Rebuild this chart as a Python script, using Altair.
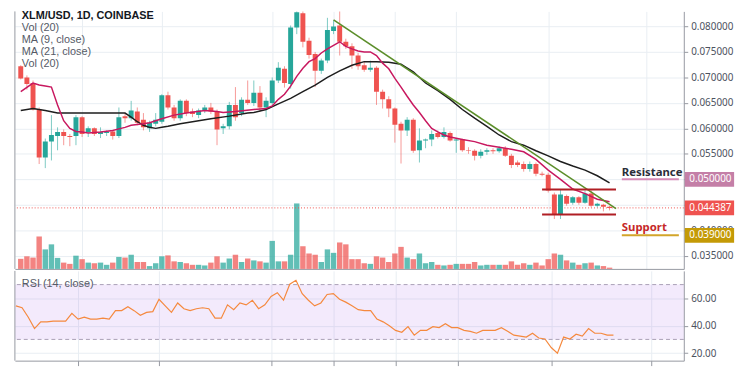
import altair as alt
import pandas as pd

# ---------------- data ----------------
opens = [0.0722, 0.0700, 0.0689, 0.0637, 0.0543, 0.0574, 0.0585, 0.0593, 0.0585, 0.0585,
         0.0622, 0.0593, 0.0600, 0.0589, 0.0591, 0.0594, 0.0585, 0.0624, 0.0620, 0.0633,
         0.0617, 0.0600, 0.0609, 0.0613, 0.0665, 0.0641, 0.0620, 0.0654, 0.0633, 0.0626,
         0.0635, 0.0641, 0.0633, 0.0600, 0.0604, 0.0646, 0.0630, 0.0656, 0.0650, 0.0670,
         0.0641, 0.0650, 0.0694, 0.0717, 0.0687, 0.0798, 0.0826, 0.0772, 0.0746, 0.0713,
         0.0733, 0.0791, 0.0802, 0.0770, 0.0761, 0.0743, 0.0724, 0.0715, 0.0719, 0.0672,
         0.0657, 0.0639, 0.0609, 0.0596, 0.0617, 0.0557, 0.0576, 0.0578, 0.0591, 0.0583,
         0.0591, 0.0576, 0.0578, 0.0557, 0.0556, 0.0546, 0.0554, 0.0557, 0.0555, 0.0561,
         0.0546, 0.0533, 0.0530, 0.0520, 0.0530, 0.0511, 0.0509, 0.0470, 0.0430, 0.0467,
         0.0454, 0.0465, 0.0454, 0.0472, 0.0448, 0.0450, 0.0446]
highs = [0.0724, 0.0704, 0.0694, 0.0641, 0.0580, 0.0626, 0.0602, 0.0598, 0.0589, 0.0626,
         0.0624, 0.0604, 0.0602, 0.0602, 0.0596, 0.0597, 0.0641, 0.0630, 0.0654, 0.0641,
         0.0630, 0.0615, 0.0630, 0.0667, 0.0672, 0.0646, 0.0657, 0.0657, 0.0639, 0.0639,
         0.0646, 0.0650, 0.0637, 0.0609, 0.0652, 0.0681, 0.0661, 0.0694, 0.0694, 0.0683,
         0.0661, 0.0700, 0.0730, 0.0722, 0.0802, 0.0840, 0.0845, 0.0778, 0.0750, 0.0737,
         0.0817, 0.0812, 0.0835, 0.0776, 0.0767, 0.0748, 0.0730, 0.0733, 0.0722, 0.0676,
         0.0663, 0.0641, 0.0613, 0.0622, 0.0620, 0.0600, 0.0580, 0.0596, 0.0596, 0.0602,
         0.0594, 0.0580, 0.0580, 0.0563, 0.0559, 0.0559, 0.0561, 0.0561, 0.0565, 0.0565,
         0.0550, 0.0537, 0.0535, 0.0535, 0.0533, 0.0515, 0.0513, 0.0474, 0.0481, 0.0470,
         0.0467, 0.0467, 0.0478, 0.0478, 0.0454, 0.0452, 0.0448]
lows = [0.0696, 0.0676, 0.0635, 0.0530, 0.0522, 0.0537, 0.0557, 0.0567, 0.0565, 0.0567,
        0.0583, 0.0583, 0.0585, 0.0581, 0.0585, 0.0578, 0.0581, 0.0611, 0.0615, 0.0606,
        0.0596, 0.0593, 0.0604, 0.0609, 0.0637, 0.0615, 0.0615, 0.0624, 0.0622, 0.0620,
        0.0630, 0.0628, 0.0567, 0.0589, 0.0598, 0.0615, 0.0624, 0.0646, 0.0644, 0.0633,
        0.0622, 0.0646, 0.0689, 0.0680, 0.0678, 0.0785, 0.0759, 0.0737, 0.0681, 0.0707,
        0.0728, 0.0785, 0.0743, 0.0756, 0.0717, 0.0715, 0.0711, 0.0711, 0.0646, 0.0639,
        0.0622, 0.0572, 0.0531, 0.0585, 0.0552, 0.0533, 0.0561, 0.0565, 0.0580, 0.0580,
        0.0574, 0.0552, 0.0554, 0.0550, 0.0537, 0.0541, 0.0548, 0.0550, 0.0552, 0.0544,
        0.0522, 0.0524, 0.0515, 0.0515, 0.0506, 0.0506, 0.0474, 0.0422, 0.0422, 0.0448,
        0.0450, 0.0450, 0.0452, 0.0445, 0.0445, 0.0437, 0.0439]
closes = [0.0698, 0.0687, 0.0637, 0.0543, 0.0574, 0.0587, 0.0593, 0.0585, 0.0583, 0.0622,
          0.0589, 0.0600, 0.0589, 0.0593, 0.0594, 0.0585, 0.0622, 0.0620, 0.0635, 0.0611,
          0.0602, 0.0611, 0.0617, 0.0665, 0.0641, 0.0620, 0.0654, 0.0630, 0.0628, 0.0635,
          0.0641, 0.0633, 0.0598, 0.0604, 0.0646, 0.0622, 0.0656, 0.0650, 0.0670, 0.0641,
          0.0654, 0.0694, 0.0719, 0.0689, 0.0798, 0.0828, 0.0770, 0.0744, 0.0713, 0.0733,
          0.0793, 0.0800, 0.0770, 0.0761, 0.0743, 0.0722, 0.0715, 0.0719, 0.0672, 0.0657,
          0.0639, 0.0607, 0.0596, 0.0617, 0.0556, 0.0576, 0.0578, 0.0589, 0.0583, 0.0593,
          0.0576, 0.0578, 0.0557, 0.0556, 0.0546, 0.0554, 0.0557, 0.0555, 0.0561, 0.0546,
          0.0528, 0.0528, 0.0520, 0.0530, 0.0511, 0.0509, 0.0478, 0.0430, 0.0470, 0.0452,
          0.0465, 0.0454, 0.0472, 0.0448, 0.0452, 0.0446, 0.044387]
volumes = [32, 40, 36, 103, 62, 78, 35, 20, 16, 42,
           31, 20, 18, 20, 13, 20, 38, 36, 45, 22,
           22, 9, 18, 40, 43, 24, 22, 18, 13, 13,
           11, 20, 40, 20, 33, 45, 22, 33, 27, 24,
           20, 89, 24, 24, 45, 208, 72, 49, 45, 22,
           62, 51, 84, 78, 31, 31, 18, 16, 40, 36,
           22, 49, 70, 36, 31, 49, 18, 22, 13, 11,
           13, 16, 16, 16, 22, 11, 13, 13, 13, 13,
           24, 13, 18, 13, 20, 11, 31, 49, 45, 27,
           20, 13, 18, 20, 11, 9, 4]
rsi_values = [54.5, 53.1, 46.2, 37.9, 42.8, 42.8, 43.4, 43.4, 43.4, 49.0,
              44.8, 46.2, 44.8, 44.8, 45.5, 44.8, 51.0, 51.0, 53.8, 51.0,
              47.6, 49.7, 50.3, 59.3, 54.5, 49.7, 56.6, 52.4, 51.0, 52.4,
              53.1, 52.4, 45.5, 45.5, 55.2, 51.7, 56.6, 55.2, 58.6, 52.4,
              55.2, 61.4, 64.1, 58.6, 70.3, 73.1, 63.4, 58.6, 54.5, 56.6,
              62.8, 63.4, 59.3, 57.2, 54.5, 51.7, 51.0, 51.0, 44.8, 42.8,
              40.0, 36.6, 35.2, 39.3, 33.1, 36.6, 36.6, 39.3, 38.6, 41.4,
              38.6, 38.6, 36.6, 35.9, 34.5, 36.6, 36.6, 36.6, 38.6, 35.9,
              33.1, 32.4, 31.7, 34.5, 31.0, 30.3, 24.1, 20.0, 31.7, 30.3,
              33.8, 32.4, 37.9, 34.5, 34.5, 33.1, 33.1]

ma9_idx = [0, 2, 3, 4, 5, 6, 7, 8, 9, 10, 11, 13, 15, 16, 17, 18, 20, 21, 23, 25,
           27, 30, 32, 33, 35, 38, 40, 41, 42, 43, 44, 45, 46, 47, 48, 49, 50, 51, 52, 53,
           54, 55, 56, 57, 58, 59, 60, 61, 62, 63, 64, 65, 66, 67, 68, 69, 70, 72, 74, 76,
           78, 80, 82, 84, 86, 88, 90, 92, 94, 96]
ma9_val = [0.0672, 0.0689, 0.0685, 0.0683, 0.0681, 0.0646, 0.0615, 0.0600, 0.0594, 0.0593,
           0.0591, 0.0593, 0.0596, 0.0599, 0.0602, 0.0606, 0.0609, 0.0611, 0.0619, 0.0626,
           0.0630, 0.0635, 0.0633, 0.0631, 0.0633, 0.0637, 0.0639, 0.0644, 0.0657, 0.0667,
           0.0683, 0.0702, 0.0718, 0.0731, 0.0737, 0.0748, 0.0756, 0.0763, 0.0770, 0.0761,
           0.0756, 0.0752, 0.0750, 0.0750, 0.0743, 0.0728, 0.0717, 0.0698, 0.0681, 0.0663,
           0.0646, 0.0631, 0.0615, 0.0600, 0.0593, 0.0587, 0.0583, 0.0578, 0.0574, 0.0567,
           0.0563, 0.0559, 0.0554, 0.0539, 0.0518, 0.0500, 0.0481, 0.0472, 0.0461, 0.0456]
ma21_idx = [0, 2, 4, 6, 8, 12, 16, 17, 18, 19, 20, 21, 22, 23, 24, 26, 29, 31, 34, 37,
            38, 40, 42, 44, 46, 48, 50, 52, 54, 56, 58, 60, 62, 64, 66, 68, 70, 72, 74, 76,
            78, 80, 82, 84, 86, 88, 90, 92, 94, 96]
ma21_val = [0.0635, 0.0639, 0.0635, 0.0630, 0.0630, 0.0630, 0.0630, 0.0630, 0.0622, 0.0613,
            0.0606, 0.0602, 0.0600, 0.0602, 0.0604, 0.0609, 0.0615, 0.0619, 0.0624, 0.0630,
            0.0631, 0.0637, 0.0648, 0.0659, 0.0672, 0.0685, 0.0700, 0.0713, 0.0724, 0.0731,
            0.0731, 0.0730, 0.0726, 0.0711, 0.0689, 0.0674, 0.0657, 0.0637, 0.0620, 0.0604,
            0.0587, 0.0574, 0.0567, 0.0556, 0.0546, 0.0535, 0.0526, 0.0518, 0.0507, 0.0493]

trend_idx = [51.0, 97.05]
trend_price = [0.0813, 0.04426]
channel_start = [85.0, 85.0]
channel_end = [97.05, 97.05]
channel_price = [0.0480, 0.0431]
level_names = ["Resistance", "Support"]
level_price = [0.050, 0.039]
level_text_price = [0.0513, 0.0404]
level_start = [98.0, 98.0]
level_end = [107.3, 107.3]
current_price = [0.044387]
badge_price = [0.050, 0.044387, 0.039]

time_ticks = [10, 23, 41, 51, 61, 71, 86, 102]
price_ticks = [0.035, 0.040, 0.045, 0.050, 0.055, 0.060, 0.065, 0.070, 0.075, 0.080]
hidden_price_labels = [0.045, 0.050]   # covered by the price badges in the reference
rsi_ticks = [20, 40, 60]
rsi_band = [30, 70]
legend_lines = ["XLM/USD, 1D, COINBASE", "Vol (20)", "MA (9, close)", "MA (21, close)", "Vol (20)"]

# ---------------- styling / layout ----------------
FONT = "Noto Sans"
LFONT = "Liberation Sans"
GREEN = "#26a69a"
RED = "#ef5350"
GRID = "#e9eef3"
BORDER = "#9598a1"
W, HM, HR = 678, 261, 91
X_DOM = [-0.15, 107.3]
P_DOM = [0.03241, 0.08296]
R_DOM = [14.5, 80.0]
VOL_DOM = [0, 818]

candles = pd.DataFrame({"i": list(range(len(closes))), "open": opens, "high": highs,
                        "low": lows, "close": closes, "volume": volumes, "rsi": rsi_values})
ma9 = pd.DataFrame({"i": ma9_idx, "p": ma9_val})
ma21 = pd.DataFrame({"i": ma21_idx, "p": ma21_val})
trend = pd.DataFrame({"i": trend_idx, "p": trend_price})
channel = pd.DataFrame({"i": channel_start, "i2": channel_end, "p": channel_price})
levels = pd.DataFrame({"name": level_names, "p": level_price, "tp": level_text_price,
                       "i": level_start, "i2": level_end,
                       "line": ["#d68bb6", "#d2a52a"], "tc": ["#2a2e39", "#c62828"]})
cur = pd.DataFrame({"p": current_price})
badges = pd.DataFrame({"p": badge_price, "c": ["#c47fa7", RED, "#c49a06"]})
one = pd.DataFrame({"a": [0]})

xs = alt.Scale(domain=X_DOM, nice=False, zero=False)
ps = alt.Scale(domain=P_DOM, nice=False, zero=False)
rs = alt.Scale(domain=R_DOM, nice=False, zero=False)

hide_expr = " || ".join(f"abs(datum.value - {v}) < 1e-9" for v in hidden_price_labels)
price_label_expr = f"({hide_expr}) ? '' : format(datum.value, '.6f')"

x_axis_main = alt.Axis(values=time_ticks, labels=False, ticks=False, grid=True, gridColor=GRID,
                       domainColor=BORDER, title=None)
x_axis_rsi = alt.Axis(values=time_ticks, labels=False, ticks=True, tickSize=5, tickColor=BORDER,
                      grid=True, gridColor=GRID, domainColor=BORDER, title=None)
p_axis = alt.Axis(orient="right", values=price_ticks, labelExpr=price_label_expr, grid=True,
                  gridColor=GRID, domainColor=BORDER, tickColor=BORDER, tickSize=4,
                  labelFontSize=10, labelColor="#4c525e", labelPadding=3, labelFont=FONT,
                  title=None)
r_axis = alt.Axis(orient="right", values=rsi_ticks, format=".2f", grid=True, gridColor=GRID,
                  domainColor=BORDER, tickColor=BORDER, tickSize=4, labelFontSize=10,
                  labelColor="#4c525e", labelPadding=3, labelFont=FONT, title=None)


def XM(field="i"):
    return alt.X(f"{field}:Q", scale=xs, axis=x_axis_main, title=None)


def XR(field="i"):
    return alt.X(f"{field}:Q", scale=xs, axis=x_axis_rsi, title=None)


def YP(field):
    return alt.Y(f"{field}:Q", scale=ps, axis=p_axis, title=None)


def YR(field):
    return alt.Y(f"{field}:Q", scale=rs, axis=r_axis, title=None)


up = alt.datum.close >= alt.datum.open
dir_color = alt.condition(up, alt.value(GREEN), alt.value(RED))

# ---- volume (own scale) ----
vol = alt.Chart(candles).mark_bar(size=5.5, opacity=0.72).encode(
    x=XM(),
    y=alt.Y("volume:Q", scale=alt.Scale(domain=VOL_DOM), axis=None),
    color=dir_color)

# ---- price layers ----
cur_line = alt.Chart(cur).mark_rule(color=RED, strokeDash=[1, 2], strokeWidth=1).encode(
    y=YP("p"))
wicks = alt.Chart(candles).mark_rule(strokeWidth=1, opacity=0.6, clip=True).encode(
    x=XM(), y=YP("low"), y2="high:Q", color=dir_color)
bodies = alt.Chart(candles).mark_bar(size=5, clip=True).encode(
    x=XM(), y=YP("open"), y2="close:Q", color=dir_color)
ma21_line = alt.Chart(ma21).mark_line(color="#1e1e1e", strokeWidth=1.5, clip=True).encode(
    x=XM(), y=YP("p"))
ma9_line = alt.Chart(ma9).mark_line(color="#c8185f", strokeWidth=1.5, clip=True).encode(
    x=XM(), y=YP("p"))
trend_line = alt.Chart(trend).mark_line(color="#5b8e2a", strokeWidth=1.6).encode(
    x=XM(), y=YP("p"))
chan = alt.Chart(channel).mark_rule(color="#b01e24", strokeWidth=2).encode(
    x=XM(), x2="i2:Q", y=YP("p"))
lvl_lines = alt.Chart(levels).mark_rule(strokeWidth=2).encode(
    x=XM(), x2="i2:Q", y=YP("p"), color=alt.Color("line:N", scale=None))
lvl_text = alt.Chart(levels).mark_text(align="left", baseline="middle", fontSize=11.5,
                                       fontWeight="bold", font=FONT).encode(
    x=XM(), y=YP("tp"), text="name:N", color=alt.Color("tc:N", scale=None))
badge_box = alt.Chart(badges).mark_rule(strokeWidth=15).encode(
    x=alt.value(W + 1), x2=alt.value(W + 51), y=YP("p"),
    color=alt.Color("c:N", scale=None))
badge_txt = alt.Chart(badges).mark_text(color="white", fontSize=10, font=FONT, baseline="middle",
                                        align="center").encode(
    x=alt.value(W + 27), y=YP("p"), text=alt.Text("p:Q", format=".6f"))
left_border = alt.Chart(one).mark_rule(color=BORDER).encode(
    x=alt.value(0), y=alt.value(0), y2=alt.value(HM))

legend_y = [5, 17, 29, 41, 53]
legend_layers = []
for k, (txt, yy) in enumerate(zip(legend_lines, legend_y)):
    legend_layers.append(
        alt.Chart(one).mark_text(align="left", baseline="middle", fontSize=11, font=LFONT,
                                 fontWeight="bold" if k == 0 else "normal",
                                 color="#131722" if k == 0 else "#555a66").encode(
            x=alt.value(7), y=alt.value(yy), text=alt.value(txt)))

price_layer = alt.layer(cur_line, wicks, bodies, ma21_line, ma9_line, trend_line, chan,
                        lvl_lines, lvl_text, badge_box, badge_txt, left_border, *legend_layers)

main = alt.layer(vol, price_layer).resolve_scale(y="independent").properties(width=W, height=HM)

# ---- RSI pane ----
band_df = pd.DataFrame({"lo": [rsi_band[0]], "hi": [rsi_band[1]]})
dash_df = pd.DataFrame({"v": rsi_band})
band = alt.Chart(band_df).mark_rect(color="#a65ee8", opacity=0.13).encode(
    x=alt.value(0), x2=alt.value(W), y=YR("hi"), y2="lo:Q")
dashes = alt.Chart(dash_df).mark_rule(color="#aaa1b6", strokeDash=[4, 3], strokeWidth=1).encode(
    y=YR("v"))
rsi_line = alt.Chart(candles).mark_line(color="#f5893e", strokeWidth=1.2).encode(
    x=XR(), y=YR("rsi"))
rsi_label = alt.Chart(one).mark_text(align="left", baseline="middle", fontSize=11, font=LFONT,
                                     color="#555a66").encode(
    x=alt.value(7), y=alt.value(13), text=alt.value("RSI (14, close)"))
rsi_border = alt.Chart(one).mark_rule(color=BORDER).encode(
    x=alt.value(0), y=alt.value(0), y2=alt.value(HR))

rsi_pane = alt.layer(band, dashes, rsi_line, rsi_label, rsi_border).properties(width=W, height=HR)

chart = alt.vconcat(main, rsi_pane, spacing=0).properties(
    padding={"left": 5, "top": 0, "right": 0, "bottom": 0}
).configure_view(stroke=None)

chart.save("out.html", embed_options={"renderer": "svg", "actions": False})
